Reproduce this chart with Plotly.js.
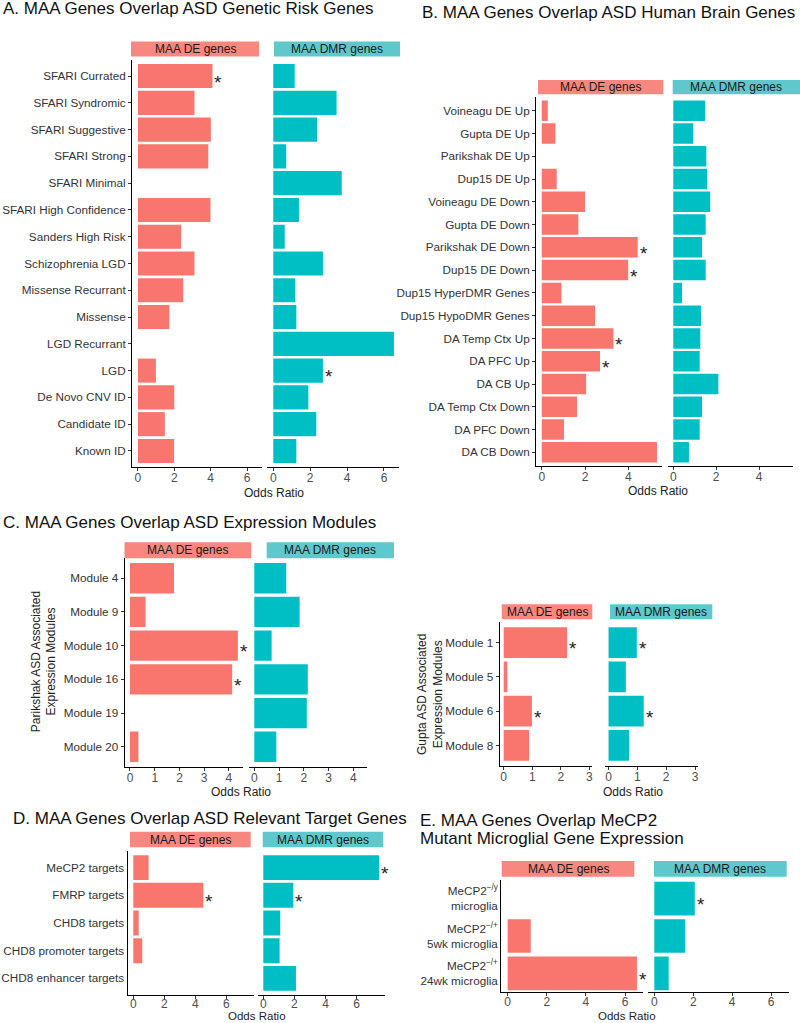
<!DOCTYPE html>
<html>
<head>
<meta charset="utf-8">
<script src="https://cdn.plot.ly/plotly-3.0.1.min.js"></script>
<style>html,body{margin:0;padding:0;background:#fff}#chart{width:800px;height:1023px}</style>
</head>
<body>
<div id="chart"></div>
<script>
// ---------- DATA ----------
const facetNames = ['MAA DE genes', 'MAA DMR genes'];

// Panel A
const catsA = ['SFARI Currated','SFARI Syndromic','SFARI Suggestive','SFARI Strong','SFARI Minimal','SFARI High Confidence','Sanders High Risk','Schizophrenia LGD','Missense Recurrant','Missense','LGD Recurrant','LGD','De Novo CNV ID','Candidate ID','Known ID'];
const deA  = [4.10,3.11,4.01,3.87,null,3.99,2.38,3.11,2.49,1.73,null,0.99,2.00,1.48,1.99];
const dmrA = [1.16,3.43,2.37,0.70,3.71,1.39,0.62,2.69,1.19,1.25,6.54,2.69,1.90,2.33,1.25];
const sigDeA  = [1,0,0,0,0,0,0,0,0,0,0,0,0,0,0];
const sigDmrA = [0,0,0,0,0,0,0,0,0,0,0,1,0,0,0];

// Panel B
const catsB = ['Voineagu DE Up','Gupta DE Up','Parikshak DE Up','Dup15 DE Up','Voineagu DE Down','Gupta DE Down','Parikshak DE Down','Dup15 DE Down','Dup15 HyperDMR Genes','Dup15 HypoDMR Genes','DA Temp Ctx Up','DA PFC Up','DA CB Up','DA Temp Ctx Down','DA PFC Down','DA CB Down'];
const deB  = [0.28,0.63,null,0.69,2.00,1.69,4.43,3.99,0.91,2.46,3.31,2.69,2.05,1.63,1.03,5.32];
const dmrB = [1.48,0.93,1.54,1.58,1.72,1.51,1.34,1.51,0.41,1.29,1.26,1.23,2.10,1.34,1.23,0.73];
const sigDeB  = [0,0,0,0,0,0,1,1,0,0,1,1,0,0,0,0];
const sigDmrB = [0,0,0,0,0,0,0,0,0,0,0,0,0,0,0,0];

// Panel C (Parikshak modules)
const catsC1 = ['Module 4','Module 9','Module 10','Module 16','Module 19','Module 20'];
const deC1  = [1.78,0.63,4.36,4.13,null,0.34];
const dmrC1 = [1.29,1.83,0.70,2.16,2.12,0.89];
const sigDeC1  = [0,0,1,1,0,0];
const sigDmrC1 = [0,0,0,0,0,0];

// Panel C (Gupta modules)
const catsC2 = ['Module 1','Module 5','Module 6','Module 8'];
const deC2  = [2.22,0.13,0.99,0.89];
const dmrC2 = [0.98,0.60,1.22,0.71];
const sigDeC2  = [1,0,1,0];
const sigDmrC2 = [1,0,1,0];

// Panel D
const catsD = ['MeCP2 targets','FMRP targets','CHD8 targets','CHD8 promoter targets','CHD8 enhancer targets'];
const deD  = [0.99,4.52,0.35,0.58,null];
const dmrD = [7.44,1.93,1.09,1.05,2.10];
const sigDeD  = [0,1,0,0,0];
const sigDmrD = [1,1,0,0,0];

// Panel E
const catsE = ['MeCP2<sup>−/y</sup><br>microglia','MeCP2<sup>−/+</sup><br>5wk microglia','MeCP2<sup>−/+</sup><br>24wk microglia'];
const deE  = [null,1.18,6.61];
const dmrE = [2.08,1.59,0.74];
const sigDeE  = [0,0,1];
const sigDmrE = [1,0,0];

// ---------- STYLE / LAYOUT ----------
const W = 800, H = 1023;
const FONT = 'Liberation Sans, Arial, Helvetica, sans-serif';
const DE_COL = '#F8766D', DMR_COL = '#00BFC4';
const DE_STRIP = '#F7877F', DMR_STRIP = '#5FC8CC';
const px = x => x / W;
const py = y => 1 - y / H;

const facets = [
  {cats:catsA, vals:deA,  sig:sigDeA,  col:DE_COL,  xd:[132,262],   yd:[60,467],  xr:[-0.325,6.825], dt:2, lab:true,  tk:'outside', pad:0.6, so:-3},
  {cats:catsA, vals:dmrA, sig:sigDmrA, col:DMR_COL, xd:[267.3,399.2], yd:[60,467], xr:[-0.325,6.825], dt:2, lab:false, tk:'', pad:0.6, so:-3},
  {cats:catsB, vals:deB,  sig:sigDeB,  col:DE_COL,  xd:[536,662.3], yd:[97,466],  xr:[-0.265,5.565], dt:2, lab:true,  tk:'outside', pad:0.6, so:-3},
  {cats:catsB, vals:dmrB, sig:sigDmrB, col:DMR_COL, xd:[667.6,792.7], yd:[97,466], xr:[-0.265,5.565], dt:2, lab:false, tk:'', pad:0.6, so:-3},
  {cats:catsC1, vals:deC1,  sig:sigDeC1,  col:DE_COL,  xd:[124.6,243.0], yd:[558,767], xr:[-0.2175,4.5675], dt:1, lab:true,  tk:'outside', pad:0.6, so:-3},
  {cats:catsC1, vals:dmrC1, sig:sigDmrC1, col:DMR_COL, xd:[248.9,367.4], yd:[558,767], xr:[-0.2175,4.5675], dt:1, lab:false, tk:'', pad:0.6, so:-3},
  {cats:catsC2, vals:deC2,  sig:sigDeC2,  col:DE_COL,  xd:[499.7,591.7], yd:[622,766], xr:[-0.14,3.085], dt:1, lab:true,  tk:'outside', pad:0.6, so:-3},
  {cats:catsC2, vals:dmrC2, sig:sigDmrC2, col:DMR_COL, xd:[604.5,697.5], yd:[622,766], xr:[-0.14,3.085], dt:1, lab:false, tk:'', pad:0.6, so:-3},
  {cats:catsD, vals:deD,  sig:sigDeD,  col:DE_COL,  xd:[127.5,254.4], yd:[851,995], xr:[-0.372,7.812], dt:2, lab:true,  tk:'', pad:0.6, so:-5},
  {cats:catsD, vals:dmrD, sig:sigDmrD, col:DMR_COL, xd:[257.5,384.8], yd:[851,995], xr:[-0.372,7.812], dt:2, lab:false, tk:'', pad:0.6, so:-5},
  {cats:catsE, vals:deE,  sig:sigDeE,  col:DE_COL,  xd:[501.2,643.4], yd:[880,992], xr:[-0.33,6.94], dt:2, lab:true,  tk:'', pad:0.5, so:-4},
  {cats:catsE, vals:dmrE, sig:sigDmrE, col:DMR_COL, xd:[647.9,789.3], yd:[880,992], xr:[-0.33,6.94], dt:2, lab:false, tk:'', pad:0.5, so:-4}
];

const strips = [
  [131,41.5,259,56.5],[274,41.5,400,56.5],
  [538,80,663.3,94.3],[672.7,80,800,94.3],
  [124.5,542.3,251.3,558.3],[266.7,542.3,394,558.3],
  [501.7,604.3,592.3,619.3],[610,604.3,712.3,619.3],
  [130,831.7,250.7,847.3],[262.7,831.7,383.3,847.3],
  [501.7,861,634.3,876.7],[654,861,786.7,876.7]
];

const traces = [];
const layout = {
  width: W, height: H,
  margin: {l:0, r:0, t:0, b:0},
  paper_bgcolor: '#fff', plot_bgcolor: 'rgba(0,0,0,0)',
  showlegend: false,
  bargap: 0.1,
  font: {family: FONT, size: 12, color: '#333'},
  annotations: [], shapes: []
};

facets.forEach((f, i) => {
  const k = i + 1;
  const xa = k === 1 ? 'x' : 'x' + k;
  const ya = k === 1 ? 'y' : 'y' + k;
  traces.push({
    type: 'bar', orientation: 'h',
    x: f.vals, y: f.cats,
    xaxis: xa, yaxis: ya,
    marker: {color: f.col, line: {width: 0}},
    hoverinfo: 'skip'
  });
  const n = f.cats.length;
  layout['xaxis' + (k === 1 ? '' : k)] = {
    domain: [px(f.xd[0]), px(f.xd[1])], anchor: ya,
    range: f.xr, dtick: f.dt, tick0: 0,
    showline: true, linecolor: '#000', linewidth: 1,
    ticks: 'outside', ticklen: 3, tickcolor: '#333', tickwidth: 1,
    ticklabelstandoff: f.so,
    showgrid: false, zeroline: false, fixedrange: true,
    tickfont: {family: FONT, size: 12, color: '#4D4D4D'}
  };
  layout['yaxis' + (k === 1 ? '' : k)] = {
    domain: [py(f.yd[1]), py(f.yd[0])], anchor: xa,
    type: 'category', categoryorder: 'array', categoryarray: f.cats,
    range: [n - 1 + f.pad, -f.pad],
    showline: f.lab, linecolor: '#000', linewidth: 1,
    showticklabels: f.lab, ticks: f.tk, ticklen: 3, tickcolor: '#333',
    showgrid: false, zeroline: false, fixedrange: true,
    tickfont: {family: FONT, size: 11.7, color: '#333'}
  };
  f.sig.forEach((s, j) => {
    if (s) layout.annotations.push({
      xref: xa, yref: ya, x: f.vals[j], y: f.cats[j],
      text: '*', showarrow: false, xanchor: 'left', yanchor: 'middle',
      xshift: 0, yshift: -6,
      font: {family: FONT, size: 19, color: '#222'}
    });
  });
});

strips.forEach((s, i) => {
  layout.shapes.push({
    type: 'rect', xref: 'paper', yref: 'paper', layer: 'below',
    x0: px(s[0]), x1: px(s[2]), y0: py(s[3]), y1: py(s[1]),
    fillcolor: i % 2 === 0 ? DE_STRIP : DMR_STRIP, line: {width: 0}
  });
  layout.annotations.push({
    xref: 'paper', yref: 'paper', x: px((s[0] + s[2]) / 2), y: py((s[1] + s[3]) / 2),
    text: facetNames[i % 2], showarrow: false, xanchor: 'center', yanchor: 'middle',
    font: {family: FONT, size: 12, color: '#1A1A1A'}
  });
});

function txt(text, x, y, size, opts) {
  layout.annotations.push(Object.assign({
    xref: 'paper', yref: 'paper', x: px(x), y: py(y), text: text,
    showarrow: false, xanchor: 'left', yanchor: 'middle',
    font: {family: FONT, size: size, color: '#111'}
  }, opts || {}));
}

// Panel titles
txt('A. MAA Genes Overlap ASD Genetic Risk Genes', 1, 9, 17);
txt('B. MAA Genes Overlap ASD Human Brain Genes', 420, 13, 17);
txt('C. MAA Genes Overlap ASD Expression Modules', 1, 522, 17);
txt('D. MAA Genes Overlap ASD Relevant Target Genes', 11, 818, 17);
txt('E. MAA Genes Overlap MeCP2', 418, 820, 17);
txt('Mutant Microglial Gene Expression', 418, 838.5, 17);

// Axis titles
const tf = {family: FONT, size: 12, color: '#222'};
const tfs = {family: FONT, size: 11.5, color: '#222'};
txt('Odds Ratio', 274, 492.5, 12, {xanchor: 'center', font: tf});
txt('Odds Ratio', 657.7, 491, 12, {xanchor: 'center', font: tf});
txt('Odds Ratio', 241, 791.5, 12, {xanchor: 'center', font: tf});
txt('Odds Ratio', 633.3, 791.5, 12, {xanchor: 'center', font: tf});
txt('Odds Ratio', 256.7, 1016, 11.5, {xanchor: 'center', font: tfs});
txt('Odds Ratio', 626.7, 1015.5, 11.5, {xanchor: 'center', font: tfs});
txt('Parikshak ASD Associated<br>Expression Modules', 43.5, 661.7, 12,
    {xanchor: 'center', textangle: -90, font: tf});
txt('Gupta ASD Associated<br>Expression Modules', 430, 695, 12,
    {xanchor: 'center', textangle: -90, font: tf});

Plotly.newPlot('chart', traces, layout, {staticPlot: true, displayModeBar: false});
</script>
</body>
</html>
